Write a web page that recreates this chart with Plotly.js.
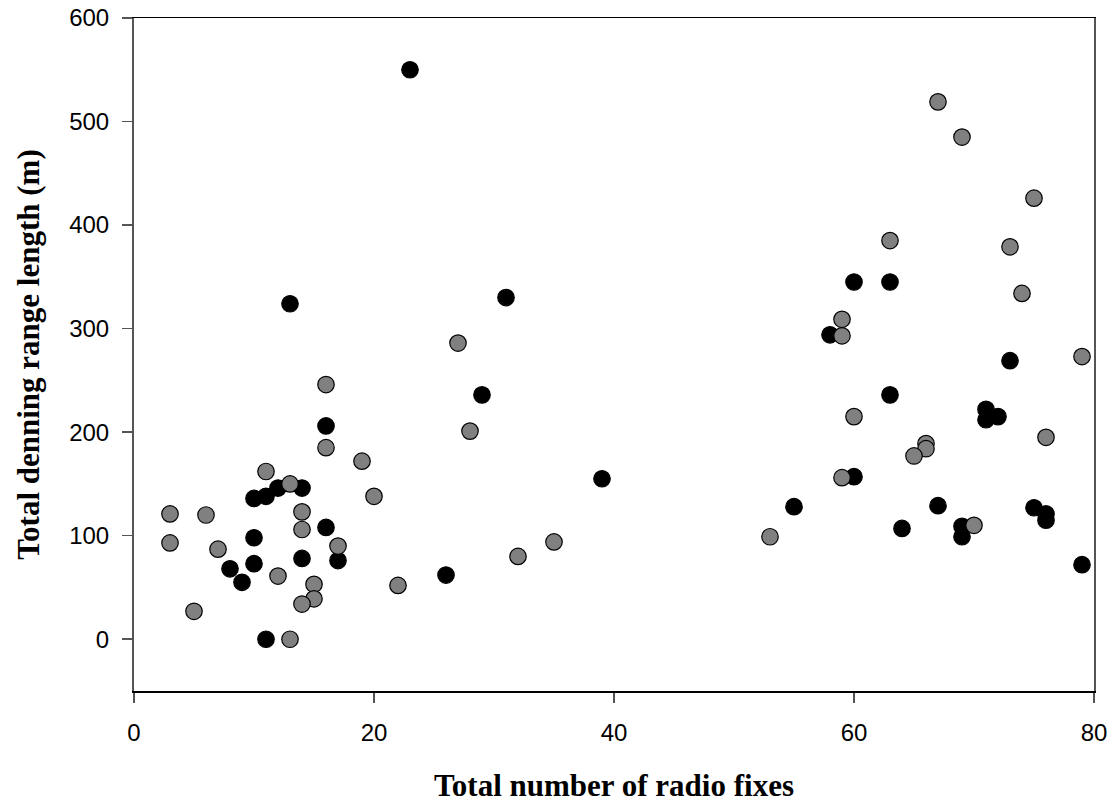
<!DOCTYPE html>
<html>
<head>
<meta charset="utf-8">
<script src="https://cdn.plot.ly/plotly-3.0.1.min.js"></script>
<style>html,body{margin:0;padding:0;background:#fff;}#chart{width:1116px;height:803px;}</style>
</head>
<body>
<div id="chart"></div>
<script>
// Black series
var blackX = [13, 23, 31, 29, 16, 10, 11, 12, 14, 16, 10, 17, 14, 10, 8, 9, 11, 26, 39,
              60, 63, 58, 73, 63, 71, 71, 72, 60, 55, 67, 64, 69, 69, 75, 76, 76, 79];
var blackY = [324, 550, 330, 236, 206, 136, 138, 146, 146, 108, 98, 76, 78, 73, 68, 55, 0, 62, 155,
              345, 345, 294, 269, 236, 222, 212, 215, 157, 128, 129, 107, 109, 99, 127, 121, 115, 72];
// Gray series
var grayX = [27, 16, 28, 16, 19, 11, 13, 20, 3, 6, 14, 14, 3, 7, 17, 12, 15, 15, 14, 5, 13, 22, 32, 35,
             67, 69, 75, 63, 73, 74, 59, 59, 79, 60, 76, 66, 66, 65, 59, 70, 53];
var grayY = [286, 246, 201, 185, 172, 162, 150, 138, 121, 120, 123, 106, 93, 87, 90, 61, 53, 39, 34, 27, 0, 52, 80, 94,
             519, 485, 426, 385, 379, 334, 309, 293, 273, 215, 195, 189, 184, 177, 156, 110, 99];

var xTicks = [0, 20, 40, 60, 80];
var yTicks = [0, 100, 200, 300, 400, 500, 600];

var traces = [
  {x: blackX, y: blackY, type: 'scatter', mode: 'markers', name: 'black',
   marker: {size: 16.5, color: '#000000', line: {color: '#000000', width: 1.2}}},
  {x: grayX, y: grayY, type: 'scatter', mode: 'markers', name: 'gray',
   marker: {size: 16.5, color: '#808080', line: {color: '#000000', width: 1.2}}}
];

var layout = {
  width: 1116, height: 803,
  margin: {l: 134, r: 22, t: 18, b: 112},
  paper_bgcolor: '#ffffff', plot_bgcolor: '#ffffff',
  showlegend: false,
  xaxis: {
    range: [0, 80], tickvals: xTicks, ticktext: xTicks.map(String),
    showgrid: false, zeroline: false,
    showline: true, linecolor: '#000000', linewidth: 1.5, mirror: true,
    ticks: 'outside', ticklen: 10, tickwidth: 1.5, tickcolor: '#555555',
    ticklabelstandoff: 10,
    tickfont: {family: 'Liberation Sans, Arial, sans-serif', size: 24, color: '#000'},
    title: {text: 'Total number of radio fixes', standoff: 30,
            font: {family: 'Liberation Serif, Times New Roman, serif', size: 31, color: '#000', weight: 'bold'}}
  },
  yaxis: {
    range: [-50, 600], tickvals: yTicks, ticktext: yTicks.map(String),
    showgrid: false, zeroline: false,
    showline: true, linecolor: '#555555', linewidth: 2, mirror: true,
    ticks: 'outside', ticklen: 10, tickwidth: 1.5, tickcolor: '#555555',
    ticklabelstandoff: 8,
    tickfont: {family: 'Liberation Sans, Arial, sans-serif', size: 24, color: '#000'},
    title: {text: 'Total denning range length (m)', standoff: 20,
            font: {family: 'Liberation Serif, Times New Roman, serif', size: 31, color: '#000', weight: 'bold'}}
  }
};

Plotly.newPlot('chart', traces, layout, {displayModeBar: false, staticPlot: true});
</script>
</body>
</html>
